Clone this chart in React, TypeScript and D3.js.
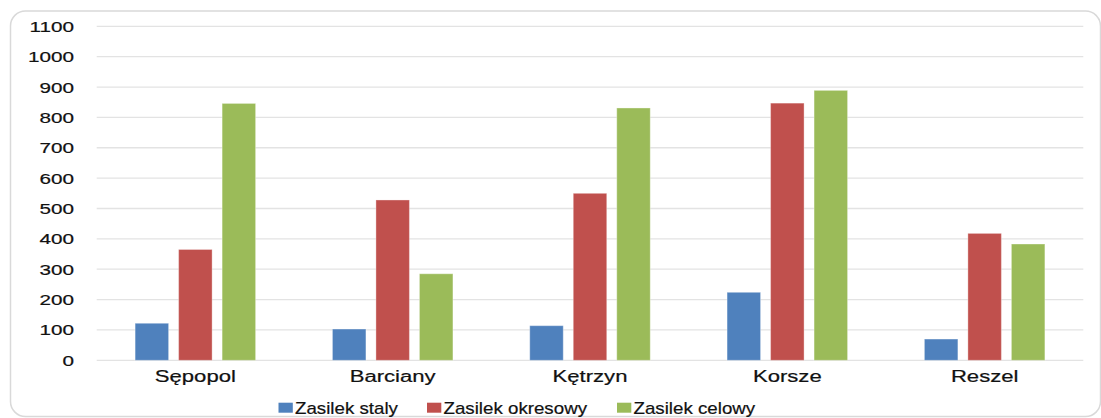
import React from 'react';
import * as d3 from 'd3';

const categories = ['Sępopol', 'Barciany', 'Kętrzyn', 'Korsze', 'Reszel'];
const seriesNames = ['Zasilek staly', 'Zasilek okresowy', 'Zasilek celowy'];
const stalyValues = [122, 103, 114, 224, 70];
const okresowyValues = [365, 528, 550, 847, 418];
const celowyValues = [846, 285, 831, 889, 383];
const yTicks = [0, 100, 200, 300, 400, 500, 600, 700, 800, 900, 1000, 1100];
const colors = ['#4F81BD', '#C0504D', '#9BBB59'];

const W = 1101;
const H = 418;
const SX = 1.38; // the picture is stretched horizontally
const FONT = "'Liberation Sans', Arial, sans-serif";

export default function App() {
  const series = [stalyValues, okresowyValues, celowyValues];

  const x = d3.scaleBand().domain(categories).range([96.7, 1083.3]).padding(0);
  const y = d3.scaleLinear().domain([0, 1100]).range([360.3, 26.3]);

  const barW = 33.5;
  const gap = 10;
  const groupW = barW * 3 + gap * 2;

  const legendX = [278.5, 427, 617];

  return (
    <svg width={W} height={H} style={{ position: 'absolute', left: 0, top: 0 }}>
      <rect x={0} y={0} width={W} height={H} fill="#fff" />
      <rect x={10.5} y={11} width={1090} height={405.5} rx={15} fill="#fff" stroke="#d9d9d9" strokeWidth={1.5} />

      <g>
        {yTicks.map((t) => (
          <line key={t} x1={96.7} x2={1083.3} y1={y(t)} y2={y(t)} stroke="#e3e3e3" strokeWidth={1.3} />
        ))}
      </g>

      <g fontFamily={FONT} fontSize={15} fill="#111" stroke="#111" strokeWidth={0.2}>
        {yTicks.map((t) => (
          <text key={t} textAnchor="end" dominantBaseline="central" transform={`translate(74,${y(t) + 0.5}) scale(${SX},1)`}>
            {t}
          </text>
        ))}
      </g>

      <g>
        {categories.map((c, i) => {
          const x0 = (x(c) as number) + x.bandwidth() / 2 - groupW / 2;
          return series.map((vals, s) => (
            <rect
              key={c + s}
              x={x0 + s * (barW + gap)}
              y={y(vals[i])}
              width={barW}
              height={y(0) - y(vals[i])}
              fill={colors[s]}
              stroke="#ffffff"
              strokeOpacity={0.35}
              strokeWidth={1}
            />
          ));
        })}
      </g>

      <g fontFamily={FONT} fontSize={16} fill="#111" stroke="#111" strokeWidth={0.2}>
        {categories.map((c) => (
          <text key={c} textAnchor="middle" transform={`translate(${(x(c) as number) + x.bandwidth() / 2},382) scale(${SX},1)`}>
            {c}
          </text>
        ))}
      </g>

      <g fontFamily={FONT} fontSize={16} fill="#111">
        {seriesNames.map((n, i) => (
          <g key={n}>
            <rect x={legendX[i]} y={402.7} width={14.3} height={10} fill={colors[i]} />
            <text transform={`translate(${legendX[i] + 16.5},413.5) scale(1.17,1)`} stroke="#111" strokeWidth={0.2}>
              {n}
            </text>
          </g>
        ))}
      </g>
    </svg>
  );
}
